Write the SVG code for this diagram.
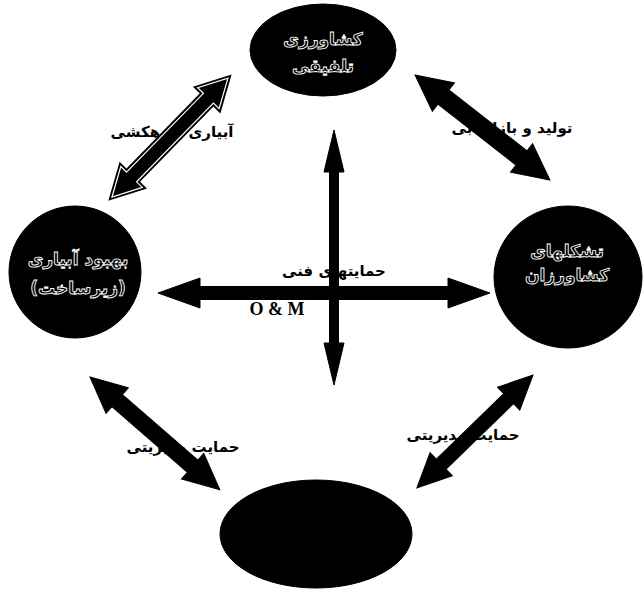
<svg xmlns="http://www.w3.org/2000/svg" width="644" height="591" viewBox="0 0 644 591">
<style>
.node{fill:#000;stroke:#000;stroke-width:1}
.nt{font-family:"DejaVu Sans",sans-serif;font-weight:bold;font-size:17px;fill:#000;stroke:#fff;stroke-width:0.9;text-anchor:middle}
.lbl{font-family:"DejaVu Sans",sans-serif;font-weight:bold;font-size:15px;fill:#000;text-anchor:middle}
.arr{fill:#000;stroke:#000;stroke-width:1}
.arr2{fill:#000;stroke:#000;stroke-width:5;stroke-linejoin:miter}
.arr2i{fill:#000;stroke:#fff;stroke-width:1.2;stroke-linejoin:miter}
</style>
<rect width="644" height="591" fill="#fff"/>
<g id="labels-under">
<text class="lbl" x="172" y="137" direction="rtl">آبیاری و زهکشی</text>
<text class="lbl" x="512" y="133" direction="rtl">تولید و بازاریابی</text>
<text class="lbl" x="183" y="452" direction="rtl">حمایت مدیریتی</text>
<text class="lbl" x="463" y="440" direction="rtl">حمایت مدیریتی</text>
</g>
<g id="connectors">
<g transform="translate(112,197) rotate(-45.7)">
<polygon class="arr2" points="0,0 28,-15 28,-7 138,-7 138,-15 166,0 138,15 138,7 28,7 28,15"/>
<polygon class="arr2i" points="0,0 28,-15 28,-7 138,-7 138,-15 166,0 138,15 138,7 28,7 28,15"/>
</g>
<polygon class="arr" transform="translate(415,75) rotate(37.9)" points="0,0 36,-18 36,-9 135,-9 135,-18 171,0 135,18 135,9 36,9 36,18"/>
<polygon class="arr" transform="translate(90,377) rotate(41)" points="0,0 36,-17 36,-8 136,-8 136,-17 172,0 136,17 136,8 36,8 36,17"/>
<polygon class="arr" transform="translate(533,375) rotate(135.8)" points="0,0 34,-16 34,-7 128,-7 128,-16 162,0 128,16 128,7 34,7 34,16"/>
<polygon class="arr" transform="translate(334,130) rotate(90)" points="0,0 42,-10 42,-4.5 213,-4.5 213,-10 255,0 213,10 213,4.5 42,4.5 42,10"/>
<polygon class="arr" transform="translate(158,293)" points="0,0 42,-15 42,-6.5 290,-6.5 290,-15 332,0 290,15 290,6.5 42,6.5 42,15"/>
</g>
<g id="center-labels">
<text class="lbl" x="334" y="276" direction="rtl">حمایتهای فنی</text>
<text x="277" y="315" font-family="Liberation Serif,serif" font-weight="bold" font-size="18" text-anchor="middle">O &amp; M</text>
</g>
<g id="node-top">
<ellipse class="node" cx="323" cy="50" rx="73" ry="46"/>
<text class="nt" x="323" y="45" direction="rtl">کشاورزی</text>
<text class="nt" x="323" y="72" direction="rtl">تلفیقی</text>
</g>
<g id="node-left">
<circle class="node" cx="75" cy="272" r="66"/>
<text class="nt" x="78" y="265" direction="rtl">بهبود آبیاری</text>
<text class="nt" x="78" y="294" direction="rtl">(زیرساخت)</text>
</g>
<g id="node-right">
<ellipse class="node" cx="568" cy="277" rx="74" ry="71"/>
<text class="nt" x="567" y="257" direction="rtl">تشکلهای</text>
<text class="nt" x="567" y="281" direction="rtl">کشاورزان</text>
</g>
<g id="node-bottom">
<ellipse class="node" cx="316" cy="534" rx="96" ry="54"/>
</g>
</svg>
